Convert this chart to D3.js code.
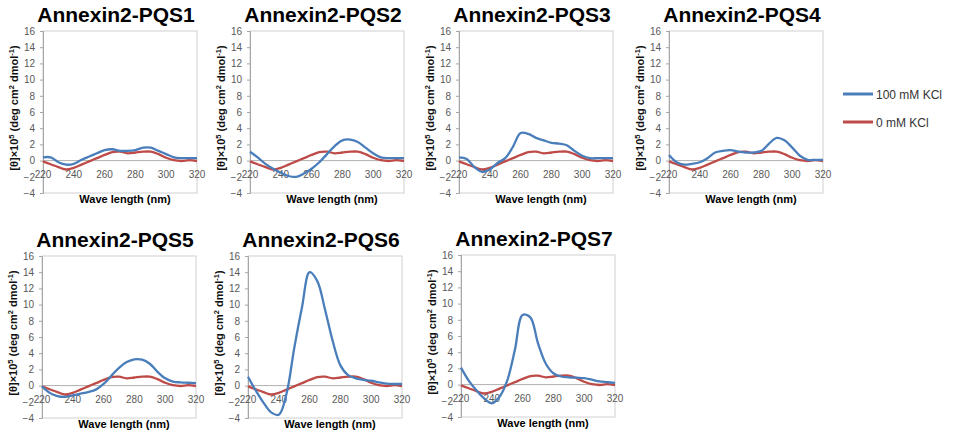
<!DOCTYPE html>
<html>
<head>
<meta charset="utf-8">
<script src="https://cdn.jsdelivr.net/npm/d3@7"></script>
<style>
  body { margin: 0; background: #fff; }
  svg { display: block; font-family: "Liberation Sans", Arial, sans-serif; }
</style>
</head>
<body>
<svg id="chart" width="958" height="434"></svg>
<script>
// CD spectra, 5 nm steps
var wavelength = [220,225,230,235,240,245,250,255,260,265,270,275,280,285,290,295,300,305,310,315,320];

// 0 mM KCl trace (looks the same in every panel)
var kcl0 = [-0.1,-0.45,-0.8,-1.1,-0.9,-0.5,-0.1,0.3,0.7,1.05,1.1,0.9,1.0,1.1,1.1,0.8,0.35,0.05,-0.05,0.05,-0.05];

// 100 mM KCl traces
var pqs1 = [0.4,0.4,-0.2,-0.5,-0.4,0.1,0.5,0.9,1.3,1.4,1.2,1.2,1.3,1.6,1.6,1.2,0.8,0.4,0.3,0.3,0.3];
var pqs2 = [1.1,0.4,-0.4,-1.0,-1.5,-1.9,-2.0,-1.6,-1.0,-0.2,0.8,1.8,2.5,2.6,2.3,1.6,0.9,0.4,0.3,0.3,0.3];
var pqs3 = [0.4,0.2,-0.8,-1.4,-1.1,-0.3,0.3,1.7,3.4,3.3,2.8,2.5,2.2,2.1,1.9,1.2,0.6,0.3,0.3,0.3,0.3];
var pqs4 = [0.7,-0.2,-0.5,-0.4,-0.2,0.3,1.0,1.2,1.3,1.1,1.0,1.0,1.2,2.1,2.8,2.5,1.6,0.6,0.1,0.1,0.1];
var pqs5 = [-0.1,-0.9,-1.3,-1.4,-1.2,-1.0,-0.8,-0.5,0.2,1.2,2.2,2.9,3.25,3.2,2.7,1.7,0.9,0.5,0.4,0.35,0.3];
var pqs6 = [1.1,-0.6,-2.1,-3.3,-3.6,-1.0,4.6,9.6,14.0,12.9,9.4,5.5,2.5,1.3,0.9,0.7,0.6,0.4,0.25,0.2,0.2];
var pqs7 = [2.1,0.5,-0.7,-1.7,-2.3,-1.5,0.5,4.3,8.6,8.3,5.1,2.6,1.4,1.0,0.9,0.85,0.8,0.6,0.4,0.3,0.2];

var titles = ["Annexin2-PQS1","Annexin2-PQS2","Annexin2-PQS3","Annexin2-PQS4","Annexin2-PQS5","Annexin2-PQS6","Annexin2-PQS7"];
var series100 = [pqs1, pqs2, pqs3, pqs4, pqs5, pqs6, pqs7];

var yTicks = [-4,-2,0,2,4,6,8,10,12,14,16];
var xTicks = [220,240,260,280,300,320];
var legendLabels = ["100 mM KCl", "0 mM KCl"];

var blue = "#4a7ebb", red = "#be4b48";

// plot box positions (left, top)
var boxes = [[43,31],[250,31],[459,31],[669,31],[42,256],[248,256],[461,255]];
var pw = 154, ph = 162;

var svg = d3.select("#chart");

var x = d3.scaleLinear().domain([220,320]).range([0,pw]);
var y = d3.scaleLinear().domain([-4,16]).range([ph,0]);

var line = d3.line()
    .x(function(d){ return x(d[0]); })
    .y(function(d){ return y(d[1]); })
    .curve(d3.curveCatmullRom.alpha(0.5));

titles.forEach(function(t, i){
    var g = svg.append("g").attr("transform", "translate(" + boxes[i][0] + "," + boxes[i][1] + ")");

    // frame
    g.append("rect")
        .attr("x", 0).attr("y", 0).attr("width", pw).attr("height", ph)
        .attr("fill", "none").attr("stroke", "#d0d0d0").attr("stroke-width", 1);

    // y axis
    var ya = g.append("g").call(d3.axisLeft(y).tickValues(yTicks).tickSize(3).tickPadding(5));
    ya.select(".domain").attr("stroke", "#a6a6a6");
    ya.selectAll(".tick line").attr("stroke", "#a6a6a6");
    ya.selectAll("text").attr("fill", "#595959").attr("font-size", "10px");

    // zero line
    g.append("line")
        .attr("x1", 0).attr("x2", pw).attr("y1", y(0)).attr("y2", y(0))
        .attr("stroke", "#b0b0b0").attr("stroke-width", 1);

    // x tick labels sit below the zero line
    g.selectAll("text.xt").data(xTicks).enter().append("text")
        .attr("class", "xt")
        .attr("x", function(d){ return x(d); })
        .attr("y", y(0) + 17)
        .attr("text-anchor", "middle")
        .attr("fill", "#595959")
        .attr("font-size", "10px")
        .text(function(d){ return d; });

    // traces
    var red0 = wavelength.map(function(w, k){ return [w, kcl0[k]]; });
    var blue100 = wavelength.map(function(w, k){ return [w, series100[i][k]]; });
    g.append("path").datum(red0).attr("d", line)
        .attr("fill", "none").attr("stroke", red).attr("stroke-width", 2.3);
    g.append("path").datum(blue100).attr("d", line)
        .attr("fill", "none").attr("stroke", blue).attr("stroke-width", 2.3);

    // title
    g.append("text")
        .attr("x", pw/2 - 4).attr("y", -9)
        .attr("text-anchor", "middle")
        .attr("font-weight", "bold").attr("font-size", "21px")
        .attr("fill", "#000")
        .text(t);

    // x title
    g.append("text")
        .attr("x", pw/2 + 5).attr("y", ph + 10)
        .attr("text-anchor", "middle")
        .attr("font-weight", "bold").attr("font-size", "11px")
        .attr("fill", "#000")
        .text("Wave length (nm)");

    // y title
    var yl = g.append("text")
        .attr("transform", "translate(-25," + (ph/2 - 4) + ") rotate(-90)")
        .attr("text-anchor", "middle")
        .attr("font-weight", "bold").attr("font-size", "11px")
        .attr("fill", "#111");
    yl.append("tspan").text("[θ]×10");
    yl.append("tspan").attr("dy", "-4").attr("font-size", "7.5px").text("5");
    yl.append("tspan").attr("dy", "4").text(" (deg cm");
    yl.append("tspan").attr("dy", "-4").attr("font-size", "7.5px").text("2");
    yl.append("tspan").attr("dy", "4").text(" dmol");
    yl.append("tspan").attr("dy", "-4").attr("font-size", "7.5px").text("-1");
    yl.append("tspan").attr("dy", "4").text(")");
});

// legend
var leg = svg.append("g").attr("transform", "translate(843,94)");
legendLabels.forEach(function(lab, i){
    var row = leg.append("g").attr("transform", "translate(0," + (i*28) + ")");
    row.append("line").attr("x1", 0).attr("x2", 30).attr("y1", 0).attr("y2", 0)
        .attr("stroke", i === 0 ? blue : red).attr("stroke-width", 3);
    row.append("text").attr("x", 33).attr("y", 4.5)
        .attr("font-size", "12px").attr("fill", "#333")
        .text(lab);
});
</script>
</body>
</html>
